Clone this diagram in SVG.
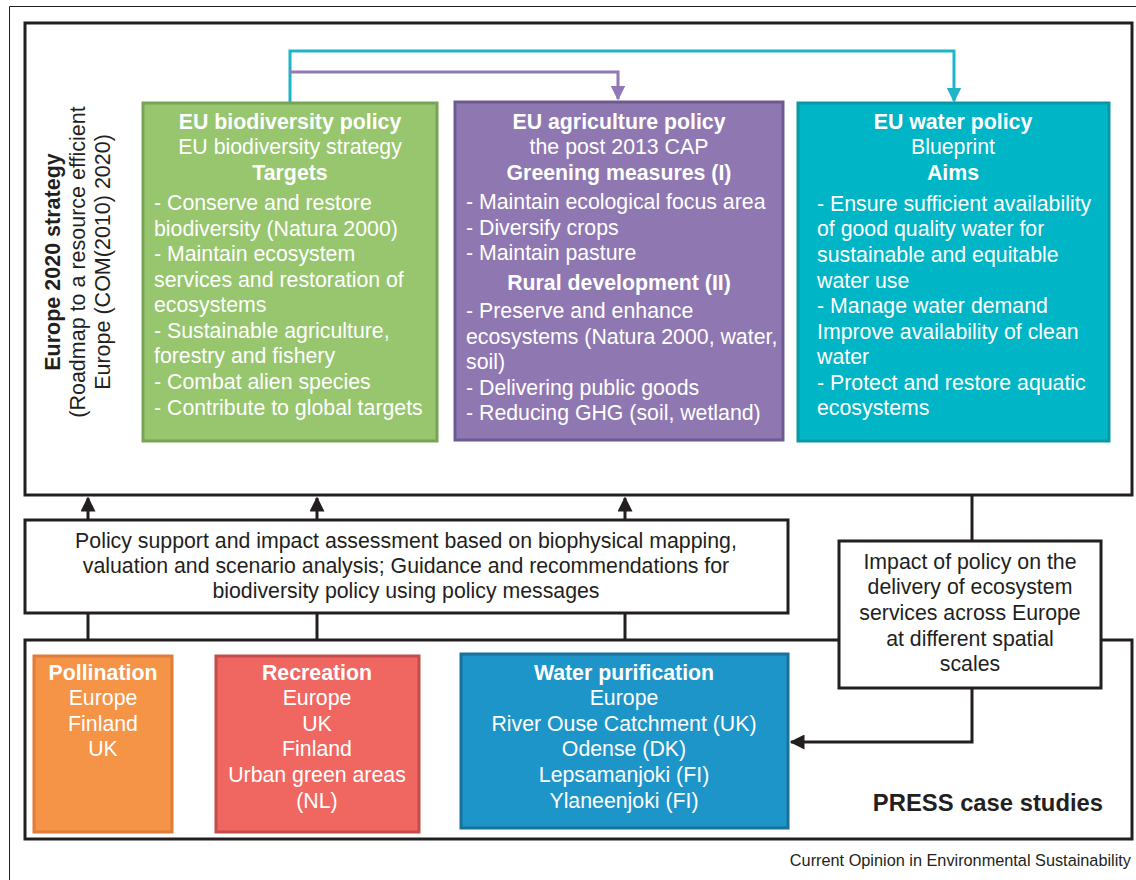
<svg xmlns="http://www.w3.org/2000/svg" width="1136" height="880" viewBox="0 0 1136 880">
<style>
text{font-family:"Liberation Sans",Arial,sans-serif}
.w{fill:#fff;font-size:21.3px}
.b{font-weight:bold}
.c{text-anchor:middle}
.k{fill:#231f20;font-size:21.3px}
.frame{fill:#fff;stroke:#231f20;stroke-width:3}
.ln{fill:none;stroke:#231f20;stroke-width:3}
</style>
<defs>
<marker id="ak" viewBox="0 0 10 10" refX="9" refY="5" markerWidth="5" markerHeight="5" orient="auto" markerUnits="strokeWidth"><path d="M0,0L10,5L0,10z" fill="#231f20"/></marker>
<marker id="ap" viewBox="0 0 10 10" refX="9" refY="5" markerWidth="5" markerHeight="5" orient="auto" markerUnits="strokeWidth"><path d="M0,0L10,5L0,10z" fill="#9179b5"/></marker>
<marker id="at" viewBox="0 0 10 10" refX="9" refY="5" markerWidth="5" markerHeight="5" orient="auto" markerUnits="strokeWidth"><path d="M0,0L10,5L0,10z" fill="#1fb5c8"/></marker>
</defs>
<rect width="1136" height="880" fill="#fff"/>
<path d="M9.5,880V6.5H1136" fill="none" stroke="#231f20" stroke-width="1"/>

<g id="europe2020">
<rect x="25" y="23" width="1107" height="472" class="frame"/>
<g transform="translate(0,262) rotate(-90)">
<text x="0" y="60" class="c b" style="font-size:21.5px;fill:#231f20">Europe 2020 strategy</text>
<text x="0" y="85" class="c" style="font-size:21.5px;fill:#231f20">(Roadmap to a resource efficient</text>
<text x="0" y="110" class="c" style="font-size:21.5px;fill:#231f20">Europe (COM(2010) 2020)</text>
</g>
</g>

<g id="press">
<rect x="25" y="640" width="1107" height="199" class="frame"/>
<text x="1103" y="811" class="b" style="font-size:23.8px;fill:#231f20;text-anchor:end">PRESS case studies</text>
</g>

<g id="connectors">
<path d="M290,103V51H954V101" fill="none" stroke="#1fb5c8" stroke-width="3" marker-end="url(#at)"/>
<path d="M290,72H618V99" fill="none" stroke="#9179b5" stroke-width="3" marker-end="url(#ap)"/>
<path d="M88,520V498" class="ln" marker-end="url(#ak)"/>
<path d="M317,520V498" class="ln" marker-end="url(#ak)"/>
<path d="M625,520V498" class="ln" marker-end="url(#ak)"/>
<path d="M88,640V613" class="ln"/>
<path d="M317,640V613" class="ln"/>
<path d="M625,640V613" class="ln"/>
<path d="M972,495V541" class="ln"/>
<path d="M972,688V742H791" class="ln" marker-end="url(#ak)"/>
</g>

<g id="biodiversity">
<rect x="143" y="103" width="294" height="338" fill="#97c66f" stroke="#79a356" stroke-width="3"/>
<text x="290" y="129" class="w b c">EU biodiversity policy</text>
<text x="290" y="154" class="w c">EU biodiversity strategy</text>
<text x="290" y="180" class="w b c">Targets</text>
<text x="154" y="210" class="w">- Conserve and restore</text>
<text x="154" y="236" class="w">biodiversity (Natura 2000)</text>
<text x="154" y="261" class="w">- Maintain ecosystem</text>
<text x="154" y="287" class="w">services and restoration of</text>
<text x="154" y="312" class="w">ecosystems</text>
<text x="154" y="338" class="w">- Sustainable agriculture,</text>
<text x="154" y="363" class="w">forestry and fishery</text>
<text x="154" y="389" class="w">- Combat alien species</text>
<text x="154" y="415" class="w">- Contribute to global targets</text>
</g>

<g id="agriculture">
<rect x="455" y="102" width="328" height="338" fill="#8f78b2" stroke="#6d5a91" stroke-width="3"/>
<text x="619" y="129" class="w b c">EU agriculture policy</text>
<text x="619" y="154" class="w c">the post 2013 CAP</text>
<text x="619" y="180" class="w b c">Greening measures (I)</text>
<text x="466" y="209" class="w">- Maintain ecological focus area</text>
<text x="466" y="235" class="w">- Diversify crops</text>
<text x="466" y="260" class="w">- Maintain pasture</text>
<text x="619" y="290" class="w b c">Rural development (II)</text>
<text x="466" y="318" class="w">- Preserve and enhance</text>
<text x="466" y="344" class="w">ecosystems (Natura 2000, water,</text>
<text x="466" y="369" class="w">soil)</text>
<text x="466" y="395" class="w">- Delivering public goods</text>
<text x="466" y="420" class="w">- Reducing GHG (soil, wetland)</text>
</g>

<g id="water">
<rect x="798" y="103" width="311" height="338" fill="#00b5c6" stroke="#0799a6" stroke-width="3"/>
<text x="953" y="129" class="w b c">EU water policy</text>
<text x="953" y="154" class="w c">Blueprint</text>
<text x="953" y="180" class="w b c">Aims</text>
<text x="817" y="211" class="w">- Ensure sufficient availability</text>
<text x="817" y="236" class="w">of good quality water for</text>
<text x="817" y="262" class="w">sustainable and equitable</text>
<text x="817" y="288" class="w">water use</text>
<text x="817" y="313" class="w">- Manage water demand</text>
<text x="817" y="339" class="w">Improve availability of clean</text>
<text x="817" y="364" class="w">water</text>
<text x="817" y="390" class="w">- Protect and restore aquatic</text>
<text x="817" y="415" class="w">ecosystems</text>
</g>

<g id="support">
<rect x="25" y="520" width="763" height="93" class="frame"/>
<text x="406" y="548" class="k c">Policy support and impact assessment based on biophysical mapping,</text>
<text x="406" y="573" class="k c">valuation and scenario analysis; Guidance and recommendations for</text>
<text x="406" y="598" class="k c">biodiversity policy using policy messages</text>
</g>

<g id="impact">
<rect x="839" y="541" width="262" height="147" class="frame"/>
<text x="970" y="569" class="k c">Impact of policy on the</text>
<text x="970" y="594" class="k c">delivery of ecosystem</text>
<text x="970" y="620" class="k c">services across Europe</text>
<text x="970" y="646" class="k c">at different spatial</text>
<text x="970" y="671" class="k c">scales</text>
</g>

<g id="pollination">
<rect x="34" y="656" width="138" height="176" fill="#f59447" stroke="#e07c3a" stroke-width="3"/>
<text x="103" y="680" class="w b c">Pollination</text>
<text x="103" y="705" class="w c">Europe</text>
<text x="103" y="731" class="w c">Finland</text>
<text x="103" y="756" class="w c">UK</text>
</g>

<g id="recreation">
<rect x="216" y="656" width="203" height="176" fill="#f06762" stroke="#c64b4b" stroke-width="3"/>
<text x="317" y="680" class="w b c">Recreation</text>
<text x="317" y="705" class="w c">Europe</text>
<text x="317" y="731" class="w c">UK</text>
<text x="317" y="756" class="w c">Finland</text>
<text x="317" y="782" class="w c">Urban green areas</text>
<text x="317" y="808" class="w c">(NL)</text>
</g>

<g id="purification">
<rect x="461" y="654" width="327" height="174" fill="#1e95c9" stroke="#16719b" stroke-width="3"/>
<text x="624" y="680" class="w b c">Water purification</text>
<text x="624" y="705" class="w c">Europe</text>
<text x="624" y="731" class="w c">River Ouse Catchment (UK)</text>
<text x="624" y="756" class="w c">Odense (DK)</text>
<text x="624" y="782" class="w c">Lepsamanjoki (FI)</text>
<text x="624" y="808" class="w c">Ylaneenjoki (FI)</text>
</g>

<text x="1131" y="866" style="font-size:16.3px;fill:#231f20;text-anchor:end">Current Opinion in Environmental Sustainability</text>
</svg>
